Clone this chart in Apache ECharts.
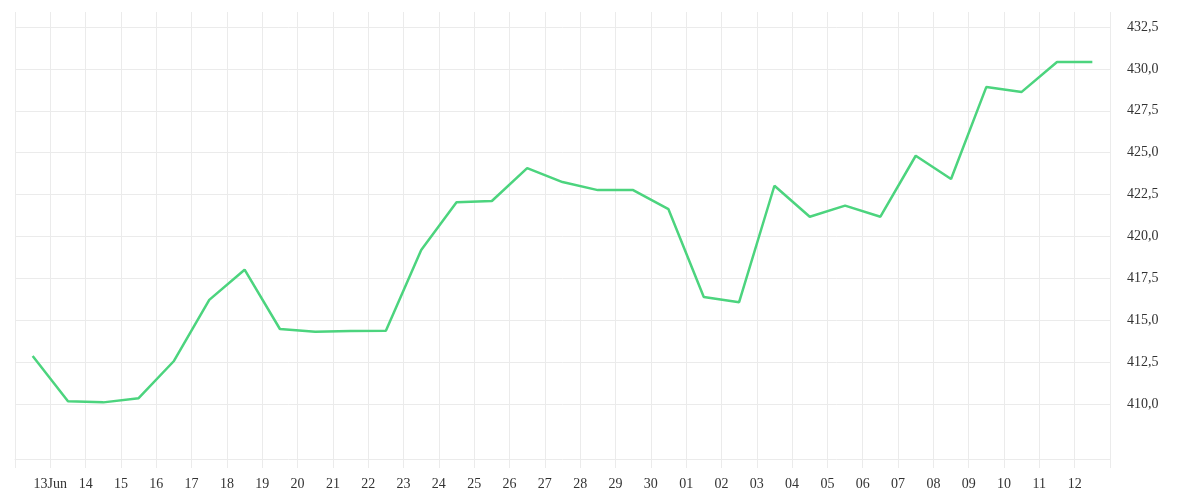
<!DOCTYPE html>
<html>
<head>
<meta charset="utf-8">
<script src="https://cdn.jsdelivr.net/npm/echarts@6/dist/echarts.min.js"></script>
<style>
  html, body { margin: 0; padding: 0; background: #fff; }
  #chart { width: 1200px; height: 500px; }
</style>
</head>
<body>
<div id="chart"></div>
<script>
// 每日收盘点（位于两条日期网格线中间）
var days = ['12', '13', '14', '15', '16', '17', '18', '19', '20', '21', '22', '23', '24', '25', '26', '27', '28', '29', '30',
    '01', '02', '03', '04', '05', '06', '07', '08', '09', '10', '11', '12'];
var values = [412.87, 410.17, 410.1, 410.35, 412.57, 416.22, 418.02, 414.48, 414.32, 414.36, 414.37,
    419.19, 422.05, 422.12, 424.08, 423.25, 422.77, 422.77, 421.63, 416.39, 416.08,
    423.03, 421.18, 421.84, 421.18, 424.82, 423.43, 428.93, 428.63, 430.42, 430.42];
// 网格线上的日期标签（首尾两条线不带文字）
var tickLabels = ['', '13Jun', '14', '15', '16', '17', '18', '19', '20', '21', '22', '23', '24', '25', '26', '27', '28', '29', '30',
    '01', '02', '03', '04', '05', '06', '07', '08', '09', '10', '11', '12', ''];
var priceTicks = [410, 432.5, 2.5]; // min, max, step

var gridColor = '#ebebeb';
var textStyle = { color: '#333', fontFamily: 'Liberation Serif', fontSize: 14 };

var myChart = echarts.init(document.getElementById('chart'));
var option = {
    animation: false,
    grid: [
        { left: 15, right: 90, top: 12, bottom: 41 },
        { left: 15, right: 90, top: 27, bottom: 96 }
    ],
    xAxis: [
        { gridIndex: 0, type: 'category', data: days, boundaryGap: true, position: 'bottom', show: false },
        {
            gridIndex: 0, type: 'category', data: tickLabels, boundaryGap: false, position: 'bottom',
            axisLine: { lineStyle: { color: gridColor, width: 1 } },
            axisTick: { interval: 0, length: 9, lineStyle: { color: gridColor } },
            axisLabel: Object.assign({ interval: 0, margin: 18 }, textStyle),
            splitLine: { show: true, interval: 0, lineStyle: { color: gridColor, width: 1 } }
        },
        { gridIndex: 1, type: 'value', show: false }
    ],
    yAxis: [
        { gridIndex: 0, type: 'value', min: 406.72, max: 433.4, show: false },
        {
            gridIndex: 1, type: 'value', position: 'right',
            min: priceTicks[0], max: priceTicks[1], interval: priceTicks[2],
            axisLine: { show: false },
            axisTick: { show: false },
            axisLabel: Object.assign({
                margin: 17,
                padding: [4, 0, 0, 0],
                formatter: function (v) { return v.toFixed(1).replace('.', ','); }
            }, textStyle),
            splitLine: { show: true, lineStyle: { color: gridColor, width: 1 } }
        }
    ],
    series: [{
        type: 'line',
        xAxisIndex: 0,
        yAxisIndex: 0,
        data: values,
        symbol: 'none',
        lineStyle: { color: '#4cd47e', width: 2.5 }
    }]
};
myChart.setOption(option);
</script>
</body>
</html>
